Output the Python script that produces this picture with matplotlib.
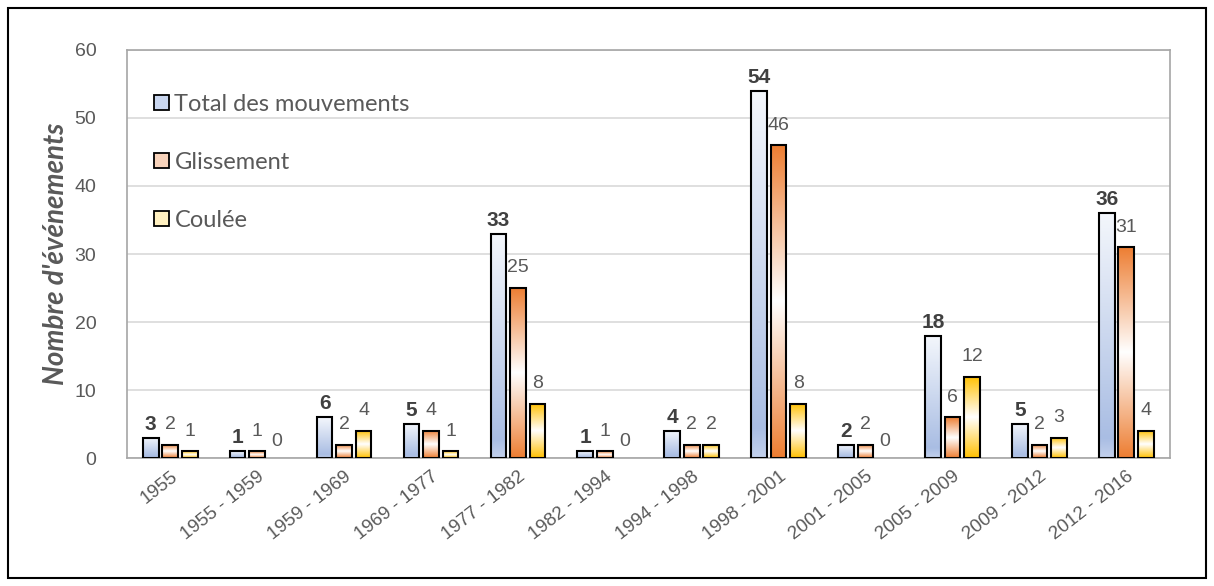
import numpy as np
import matplotlib.pyplot as plt
from matplotlib.colors import LinearSegmentedColormap
from matplotlib.patches import Patch, Rectangle

# Data
periodes = ["1955", "1955 - 1959", "1959 - 1969", "1969 - 1977", "1977 - 1982",
            "1982 - 1994", "1994 - 1998", "1998 - 2001", "2001 - 2005",
            "2005 - 2009", "2009 - 2012", "2012 - 2016"]
total = [3, 1, 6, 5, 33, 1, 4, 54, 2, 18, 5, 36]
glissement = [2, 1, 2, 4, 25, 1, 2, 46, 2, 6, 2, 31]
coulee = [1, 0, 4, 1, 8, 0, 2, 8, 0, 12, 3, 4]
noms = ["Total des mouvements", "Glissement", "Coulée"]

plt.rcParams['font.family'] = ['Liberation Sans', 'DejaVu Sans']

# Gradient colormaps (bottom -> top)
cmaps = [
    LinearSegmentedColormap.from_list("tot", [(0, "#c3d1ec"), (0.08, "#a9bde3"), (1, "#f4f7fc")]),
    LinearSegmentedColormap.from_list("gl", [(0, "#ed7d31"), (0.5, "#ffffff"), (1, "#ed7d31")]),
    LinearSegmentedColormap.from_list("co", [(0, "#ffc000"), (0.5, "#ffffff"), (1, "#ffc000")]),
]
legend_cols = ["#c9d6ef", "#f8d3bb", "#fff0c0"]

fig = plt.figure(figsize=(12.14, 5.86), dpi=100)
fig.patches.append(Rectangle((0.007, 0.014), 0.986, 0.972, transform=fig.transFigure,
                             fill=False, edgecolor="black", linewidth=1.5))
ax = fig.add_axes([0.1045, 0.218, 0.859, 0.697])

x = np.arange(len(periodes))
w = 0.18
step = 0.225
series = [total, glissement, coulee]
grad = np.linspace(0, 1, 256).reshape(-1, 1)

for k, vals in enumerate(series):
    for i, v in enumerate(vals):
        if v <= 0:
            ax.text(x[i] + (k - 1) * step, 1.2, "0", ha="center", va="bottom",
                    fontsize=14, color="#595959")
            continue
        xl = x[i] + (k - 1) * step - w / 2
        bar = Rectangle((xl, 0), w, v, facecolor="none", edgecolor="black",
                        linewidth=1.5, zorder=3)
        ax.add_patch(bar)
        im = ax.imshow(grad, cmap=cmaps[k], origin="lower", aspect="auto",
                       extent=(xl, xl + w, 0, v), zorder=2, interpolation="bilinear")
        im.set_clip_path(bar)
        if k == 0:
            ax.text(x[i] + (k - 1) * step, v + 0.6, str(v), ha="center", va="bottom",
                    fontsize=15, fontweight="bold", color="#404040")
        else:
            ax.text(x[i] + (k - 1) * step, v + 1.7, str(v), ha="center", va="bottom",
                    fontsize=14, color="#595959")

ax.set_xlim(-0.5, len(periodes) - 0.5)
ax.set_ylim(0, 60)
ax.set_yticks(range(0, 61, 10))
ax.set_xticks(x)
ax.set_xticklabels(periodes, rotation=38, ha="right", rotation_mode="anchor",
                   fontsize=13.5, color="#595959")
ax.tick_params(axis="y", labelsize=14, labelcolor="#595959", length=0, pad=22)
ax.tick_params(axis="x", length=0, pad=7)
ax.grid(axis="y", color="#d9d9d9", linewidth=1.2)
ax.set_axisbelow(True)
for s in ax.spines.values():
    s.set_color("#a6a6a6")
    s.set_linewidth(1.2)
ax.set_ylabel("Nombre d'événements", fontsize=20, fontweight="bold",
              fontstyle="italic", color="#595959", labelpad=4, family=["Lato", "DejaVu Sans"])

handles = [Patch(facecolor=legend_cols[k], edgecolor="black", linewidth=1.3) for k in range(3)]
leg = ax.legend(handles, noms, loc="upper left", frameon=False,
                prop={"family": ["Lato", "DejaVu Sans"], "size": 17},
                handlelength=0.6, handleheight=0.6, handletextpad=0.25,
                labelspacing=1.57, bbox_to_anchor=(0.006, 0.945), labelcolor="#595959")

fig.savefig("out.png", dpi=100)
